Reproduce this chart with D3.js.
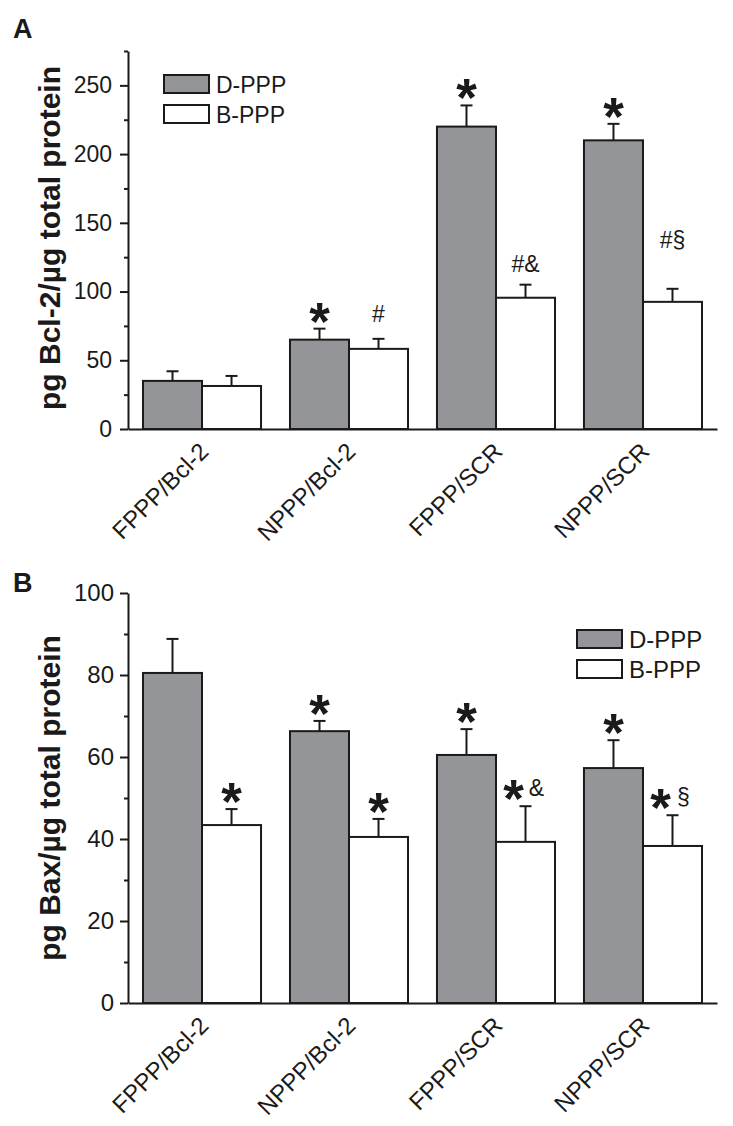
<!DOCTYPE html>
<html>
<head>
<meta charset="utf-8">
<script src="https://cdn.jsdelivr.net/npm/d3@7"></script>
<style>
  body { margin: 0; background: #fff; }
  svg { font-family: "Liberation Sans", Arial, sans-serif; }
</style>
</head>
<body>
<svg id="grafico"></svg>
<script>
const largura = 733;
const altura = 1126;

// dados
const categorias = ["FPPP/Bcl-2", "NPPP/Bcl-2", "FPPP/SCR", "NPPP/SCR"];
const series = ["D-PPP", "B-PPP"];

const bcl2D = [35, 65, 220, 210];
const bcl2DErr = [7, 8, 15.4, 12];
const bcl2B = [31.3, 58.3, 95.5, 92.5];
const bcl2BErr = [7.3, 7.3, 9.5, 9.5];
const bcl2DMarcas = ["", "*", "*", "*"];
const bcl2BMarcas = ["", "#", "#&", "#§"];
const bcl2Ticks = [0, 50, 100, 150, 200, 250];
const bcl2Minor = [25, 75, 125, 175, 225, 275];

const baxD = [80.5, 66.3, 60.5, 57.3];
const baxDErr = [8.3, 2.5, 6.3, 6.8];
const baxB = [43.4, 40.5, 39.3, 38.3];
const baxBErr = [3.9, 4.4, 8.7, 7.5];
const baxDMarcas = ["", "*", "*", "*"];
const baxBMarcas = ["*", "*", "*&", "*§"];
const baxTicks = [0, 20, 40, 60, 80, 100];
const baxMinor = [10, 30, 50, 70, 90];

const cinza = "#939598";
const tinta = "#1a1a1a";

const svg = d3.select("#grafico")
    .attr("width", largura)
    .attr("height", altura);

const x0 = d3.scaleBand()
    .domain(categorias)
    .range([128, 717])
    .paddingInner(0.197)
    .paddingOuter(0.102);

const x1 = d3.scaleBand()
    .domain(series)
    .range([0, x0.bandwidth()]);

function painel(cfg) {
    const g = svg.append("g");
    const y = cfg.y;
    const linhas = categorias.map((c, i) => ({
        cat: c,
        valores: [
            { s: series[0], v: cfg.d[i], e: cfg.dErr[i], m: cfg.dMarcas[i] },
            { s: series[1], v: cfg.b[i], e: cfg.bErr[i], m: cfg.bMarcas[i] }
        ]
    }));

    // barras
    const grupos = g.selectAll(".grupo")
        .data(linhas)
        .join("g")
        .attr("transform", d => `translate(${x0(d.cat)},0)`);

    const barras = grupos.selectAll("g")
        .data(d => d.valores)
        .join("g")
        .attr("transform", d => `translate(${x1(d.s)},0)`);

    barras.append("rect")
        .attr("x", 0)
        .attr("width", x1.bandwidth())
        .attr("y", d => y(d.v))
        .attr("height", d => y(0) - y(d.v))
        .attr("fill", d => d.s === series[0] ? cinza : "#fff")
        .attr("stroke", tinta)
        .attr("stroke-width", 2);

    // barras de erro (so para cima)
    const meio = x1.bandwidth() / 2;
    barras.append("line")
        .attr("x1", meio).attr("x2", meio)
        .attr("y1", d => y(d.v)).attr("y2", d => y(d.v + d.e))
        .attr("stroke", tinta).attr("stroke-width", 2);
    barras.append("line")
        .attr("x1", meio - 6).attr("x2", meio + 6)
        .attr("y1", d => y(d.v + d.e)).attr("y2", d => y(d.v + d.e))
        .attr("stroke", tinta).attr("stroke-width", 2);

    // marcas de significancia
    barras.each(function(d) {
        if (!d.m) return;
        const sel = d3.select(this);
        const topo = y(d.v + d.e);
        if (d.m[0] === "*") {
            const resto = d.m.slice(1);
            const cx = resto ? meio - 12 : meio;
            const centro = topo - 18;
            sel.append("text")
                .attr("x", cx)
                .attr("y", centro + 29)
                .attr("text-anchor", "middle")
                .attr("font-size", 53)
                .attr("font-weight", "bold")
                .attr("fill", tinta)
                .text("*");
            if (resto) {
                sel.append("text")
                    .attr("x", meio + 11)
                    .attr("y", centro + 8)
                    .attr("text-anchor", "middle")
                    .attr("font-size", 23)
                    .attr("fill", tinta)
                    .text(resto);
            }
        } else {
            const lift = d.m === "#§" ? 41 : (d.m === "#&" ? 13 : 17);
            sel.append("text")
                .attr("x", meio)
                .attr("y", topo - lift)
                .attr("text-anchor", "middle")
                .attr("font-size", 23)
                .attr("fill", tinta)
                .text(d.m);
        }
    });

    // eixo y
    const eixoY = g.append("g")
        .attr("transform", "translate(128,0)")
        .call(d3.axisLeft(y).tickValues(cfg.ticks).tickSize(8).tickSizeOuter(0).tickPadding(cfg.pad));
    eixoY.select(".domain").attr("stroke", tinta).attr("stroke-width", 2);
    eixoY.selectAll(".tick line").attr("stroke", tinta).attr("stroke-width", 2);
    eixoY.selectAll(".tick text")
        .attr("font-size", cfg.tickFont)
        .attr("font-family", "'Liberation Sans', Arial, sans-serif")
        .attr("fill", tinta);

    const menor = g.append("g")
        .attr("transform", "translate(128,0)")
        .call(d3.axisLeft(y).tickValues(cfg.minor).tickSize(4).tickFormat(""));
    menor.select(".domain").remove();
    menor.selectAll(".tick line").attr("stroke", tinta).attr("stroke-width", 2);

    // eixo x
    const eixoX = g.append("g")
        .attr("transform", `translate(0,${y(0)})`)
        .call(d3.axisBottom(x0).tickSize(0).tickSizeOuter(0));
    eixoX.select(".domain").attr("stroke", tinta).attr("stroke-width", 2);
    eixoX.selectAll(".tick text")
        .attr("x", null).attr("y", null).attr("dy", null)
        .attr("text-anchor", "end")
        .attr("transform", "translate(8,24) rotate(-45)")
        .attr("font-size", 24)
        .attr("font-family", "'Liberation Sans', Arial, sans-serif")
        .attr("fill", tinta);

    // titulo do eixo y
    g.append("text")
        .attr("transform", `translate(60,${cfg.tituloY}) rotate(-90)`)
        .attr("text-anchor", "middle")
        .attr("font-size", 30)
        .attr("font-weight", "bold")
        .attr("fill", tinta)
        .text(cfg.titulo);

    // letra do painel
    g.append("text")
        .attr("x", 13)
        .attr("y", cfg.letraY)
        .attr("font-size", 27)
        .attr("font-weight", "bold")
        .attr("fill", tinta)
        .text(cfg.letra);

    // legenda
    const leg = g.append("g")
        .attr("transform", `translate(${cfg.legX},${cfg.legY})`);
    series.forEach((s, i) => {
        leg.append("rect")
            .attr("x", 0).attr("y", i * 30)
            .attr("width", 45).attr("height", 18)
            .attr("fill", i === 0 ? cinza : "#fff")
            .attr("stroke", tinta).attr("stroke-width", 2);
        leg.append("text")
            .attr("x", 52).attr("y", i * 30 + 18)
            .attr("font-size", cfg.legFont)
            .attr("fill", tinta)
            .text(s);
    });
}

painel({
    y: d3.scaleLinear().domain([0, 275]).range([429, 51]),
    d: bcl2D, dErr: bcl2DErr, dMarcas: bcl2DMarcas,
    b: bcl2B, bErr: bcl2BErr, bMarcas: bcl2BMarcas,
    ticks: bcl2Ticks, minor: bcl2Minor, pad: 8, tickFont: 23,
    titulo: "pg Bcl-2/µg total protein", tituloY: 238,
    letra: "A", letraY: 38,
    legX: 164, legY: 75, legFont: 23
});

painel({
    y: d3.scaleLinear().domain([0, 100]).range([1003, 593]),
    d: baxD, dErr: baxDErr, dMarcas: baxDMarcas,
    b: baxB, bErr: baxBErr, bMarcas: baxBMarcas,
    ticks: baxTicks, minor: baxMinor, pad: 6, tickFont: 24,
    titulo: "pg Bax/µg total protein", tituloY: 798,
    letra: "B", letraY: 592,
    legX: 577, legY: 630, legFont: 24
});
</script>
</body>
</html>
